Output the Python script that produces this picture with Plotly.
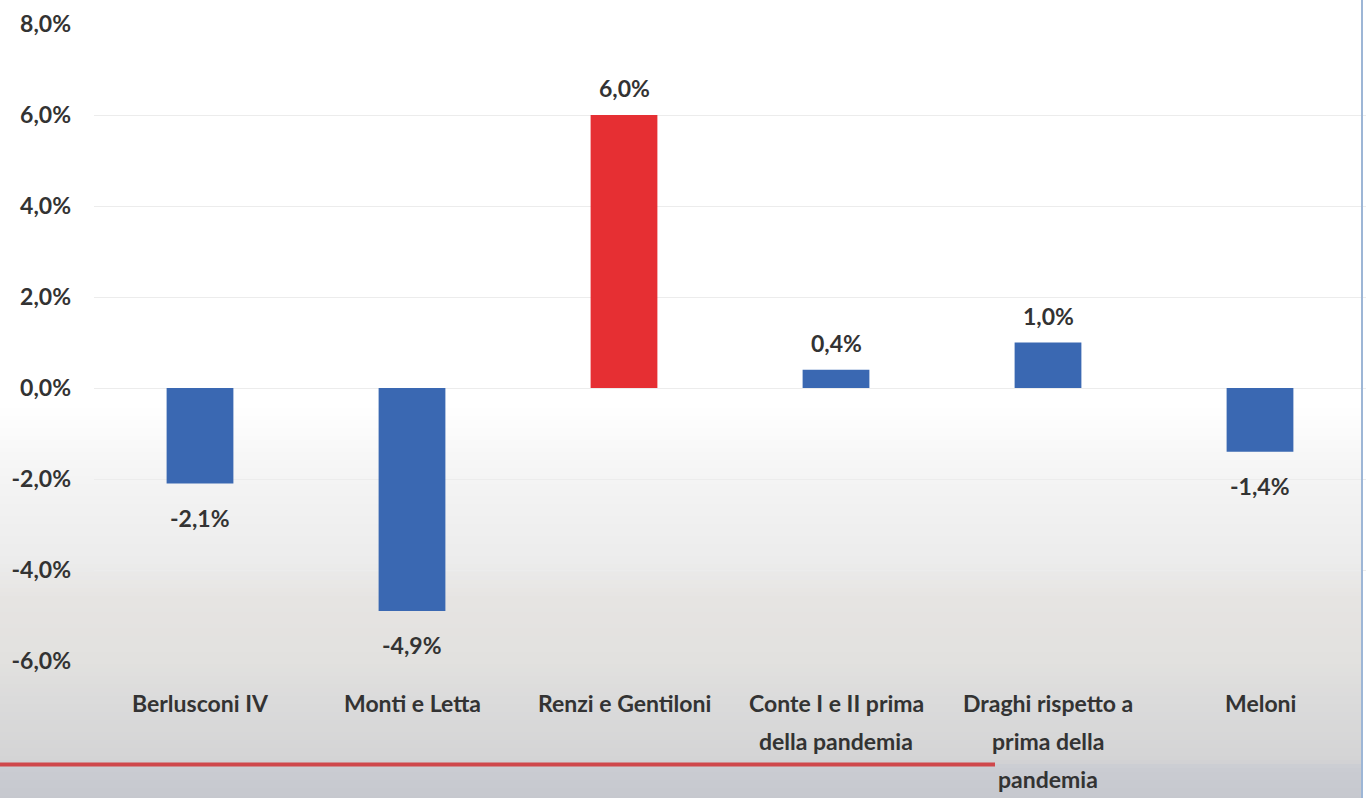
import plotly.graph_objects as go

# Variazione percentuale per governo
categories = [
    "Berlusconi IV",
    "Monti e Letta",
    "Renzi e Gentiloni",
    "Conte I e II prima<br>della pandemia",
    "Draghi rispetto a<br>prima della<br>pandemia",
    "Meloni",
]
values = [-2.1, -4.9, 6.0, 0.4, 1.0, -1.4]

y_ticks = [-6, -4, -2, 0, 2, 4, 6, 8]
y_tick_labels = ["-6,0%", "-4,0%", "-2,0%", "0,0%", "2,0%", "4,0%", "6,0%", "8,0%"]

BLUE = "#3a68b2"
RED = "#e62f33"
TEXT = "#333333"
FONT = "Lato"
FSIZE = 23

bar_colors = [RED if v == max(values) else BLUE for v in values]


def fmt(v):
    return f"{v:.1f}".replace(".", ",") + "%"


fig = go.Figure(
    go.Bar(
        x=categories,
        y=values,
        marker=dict(color=bar_colors, line=dict(width=0)),
        width=0.315,
        hoverinfo="skip",
    )
)

W, H = 1369, 798
L, R, T, B = 94, 3, 24, 137
pw, ph = W - L - R, H - T - B


def px_x(x):
    return (x - L) / pw


def px_y(y):
    return (H - B - y) / ph


# Background: white on top fading into a light grey band at the bottom
stops = [
    (0, (255, 255, 255)),
    (405, (255, 255, 255)),
    (470, (245, 245, 245)),
    (560, (236, 236, 236)),
    (600, (230, 228, 226)),
    (660, (226, 225, 223)),
    (700, (219, 219, 219)),
    (760, (212, 212, 213)),
    (768, (202, 204, 210)),
    (798, (198, 200, 206)),
]


def color_at(y):
    for (y0, c0), (y1, c1) in zip(stops[:-1], stops[1:]):
        if y0 <= y <= y1:
            t = 0 if y1 == y0 else (y - y0) / (y1 - y0)
            return tuple(round(a + (b - a) * t) for a, b in zip(c0, c1))
    return stops[-1][1]


shapes = []
step = 4
for y in range(400, H, step):
    c = color_at(y + step / 2)
    shapes.append(
        dict(
            type="rect", xref="paper", yref="paper", layer="below",
            x0=px_x(0), x1=px_x(1362), y0=px_y(y + step), y1=px_y(y),
            fillcolor=f"rgb{c}", line=dict(width=0),
        )
    )

# Red rule under the category labels
shapes.append(
    dict(
        type="line", xref="paper", yref="paper",
        x0=px_x(0), x1=px_x(995), y0=px_y(764.5), y1=px_y(764.5),
        line=dict(color="#cf474b", width=4),
    )
)
# Thin frame edge on the right
shapes.append(
    dict(
        type="line", xref="paper", yref="paper",
        x0=px_x(1362), x1=px_x(1362), y0=px_y(0), y1=px_y(H),
        line=dict(color="#9db6d6", width=2),
    )
)

label_font = dict(family=FONT, size=FSIZE, color=TEXT, weight="bold")

annotations = []
# Value labels
for c, v in zip(categories, values):
    annotations.append(
        dict(
            x=c, y=v, xref="x", yref="y", text=fmt(v), showarrow=False,
            yanchor="middle", yshift=27 if v >= 0 else -34,
            font=label_font,
        )
    )
# Category labels, one annotation per line for wide line spacing
for c in categories:
    for k, line in enumerate(c.split("<br>")):
        annotations.append(
            dict(
                x=c, y=0, xref="x", yref="paper", text=line, showarrow=False,
                yanchor="middle", yshift=-42 - 38 * k,
                font=label_font,
            )
        )

fig.update_layout(
    width=W, height=H,
    margin=dict(l=L, r=R, t=T, b=B),
    paper_bgcolor="white",
    plot_bgcolor="rgba(0,0,0,0)",
    showlegend=False,
    shapes=shapes,
    annotations=annotations,
    font=dict(family=FONT, color=TEXT),
    xaxis=dict(
        range=[-0.5, 5.5], showticklabels=False, showgrid=False,
        zeroline=False, showline=False, ticks="",
    ),
    yaxis=dict(
        range=[-6, 8], tickvals=y_ticks, ticktext=y_tick_labels,
        showgrid=True, gridcolor="#ececec", gridwidth=1,
        zeroline=False, showline=False, ticks="",
        ticklabelstandoff=22,
        tickfont=label_font,
    ),
)

fig.write_html("out.html")
